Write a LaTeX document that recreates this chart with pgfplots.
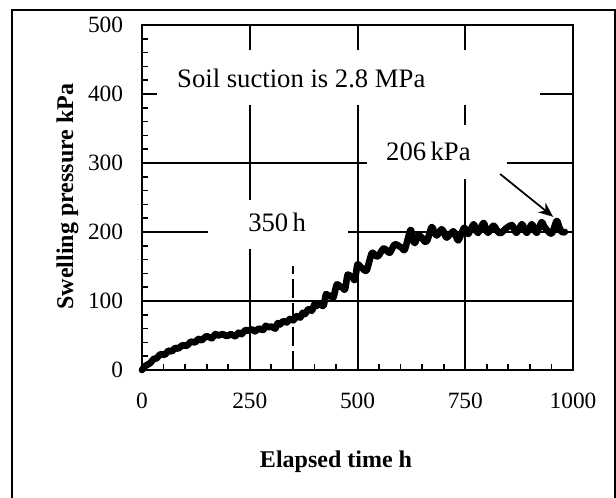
\documentclass[border=0pt]{standalone}
\usepackage{fontspec}
\setmainfont{Liberation Serif}
\usepackage{pgfplots}
\pgfplotsset{compat=1.18}
\usetikzlibrary{arrows.meta}
\begin{document}
\begin{tikzpicture}[x=0.75pt,y=0.75pt]
\useasboundingbox (-142,-128) rectangle (474,370);
\draw[line width=1.5pt] (-130,-140) -- (-130,360) -- (473,360) -- (473,-140);
\begin{axis}[
  at={(0,0)}, anchor=south west,
  scale only axis, width=323.25pt, height=258.75pt,
  xmin=0, xmax=1000, ymin=0, ymax=500,
  xtick={0,250,500,750,1000}, ytick={0,100,200,300,400,500},
  minor x tick num=4, minor y tick num=4,
  tick align=inside, tick pos=left,
  major tick length=4.5pt, minor tick length=4.5pt,
  tick style={black, line width=1.3pt},
  grid=major, major grid style={black, line width=1.5pt},
  axis line style={black, line width=1.9pt},
  /pgf/number format/assume math mode=true,
  /pgf/number format/1000 sep={},
  ticklabel style={font=\fontsize{17.5}{19}\selectfont, inner sep=0pt},
  yticklabel style={anchor=east, xshift=-14pt},
  xticklabel style={anchor=north, yshift=-17pt},
  clip=false,
]
\fill[white] (axis cs:35,384) rectangle (axis cs:923,464);
\fill[white] (axis cs:522,277) rectangle (axis cs:847,355);
\fill[white] (axis cs:153,175) rectangle (axis cs:478,246);
\node[anchor=base west, inner sep=0pt, font=\fontsize{20}{22}\selectfont] at (axis cs:81,409) {Soil suction is 2.8 MPa};
\node[anchor=base west, inner sep=0pt, font=\fontsize{20}{22}\selectfont] at (axis cs:566,303) {206\,kPa};
\node[anchor=base west, inner sep=0pt, font=\fontsize{20}{22}\selectfont] at (axis cs:246,200) {350\,h};
\addplot[black, line width=1.4pt, dash pattern=on 14pt off 4pt] coordinates {(350,0) (350,150)};
\addplot[black, line width=5pt, line join=round, line cap=round, smooth, tension=0.5] coordinates {
(0,0) (8,6) (19,10) (27,16) (34,17) (43,23) (53,22) (61,28) (69,27) (77,32) (84,31) (94,36) (104,35) (113,41) (123,40) (131,45) (138,43) (150,49) (162,46) (170,52) (177,50) (187,52) (197,49) (206,52) (216,49) (224,54) (231,52) (240,58) (247,57) (255,59) (262,56) (271,60) (281,58) (287,64) (293,62) (301,63) (309,60) (315,68) (320,66) (328,71) (336,69) (343,74) (351,72) (359,78) (367,76) (373,83) (378,81) (386,88) (394,86) (400,95) (405,93) (413,96) (421,93) (427,110) (432,107) (438,108) (444,105) (452,124) (459,121) (465,120) (471,117) (477,138) (483,136) (489,134) (494,131) (500,153) (506,150) (514,146) (521,144) (533,169) (541,166) (548,165) (560,176) (568,173) (575,170) (586,182) (595,180) (603,177) (610,175) (623,203) (628,190) (633,184) (641,195) (649,192) (656,186) (662,188) (672,207) (678,200) (684,195) (695,204) (701,199) (707,192) (722,201) (728,195) (734,188) (747,206) (752,202) (757,197) (769,211) (774,205) (780,199) (792,213) (797,206) (803,199) (815,209) (823,203) (831,198) (846,206) (858,210) (863,205) (869,199) (881,211) (887,205) (893,199) (904,211) (910,205) (916,199) (927,214) (933,208) (939,203) (951,198) (962,216) (968,207) (974,200) (981,200)
};
\addplot[black, line width=1.3pt, -{Stealth[length=11pt,width=9pt]}] coordinates {(831,284) (954,222)};
\end{axis}
\node[anchor=base, rotate=90, inner sep=0pt, font=\bfseries\fontsize{18}{20}\selectfont] at (-69,173.5) {Swelling pressure kPa};
\node[anchor=base, inner sep=0pt, font=\bfseries\fontsize{18}{20}\selectfont] at (194,-98) {Elapsed time h};
\end{tikzpicture}
\end{document}
